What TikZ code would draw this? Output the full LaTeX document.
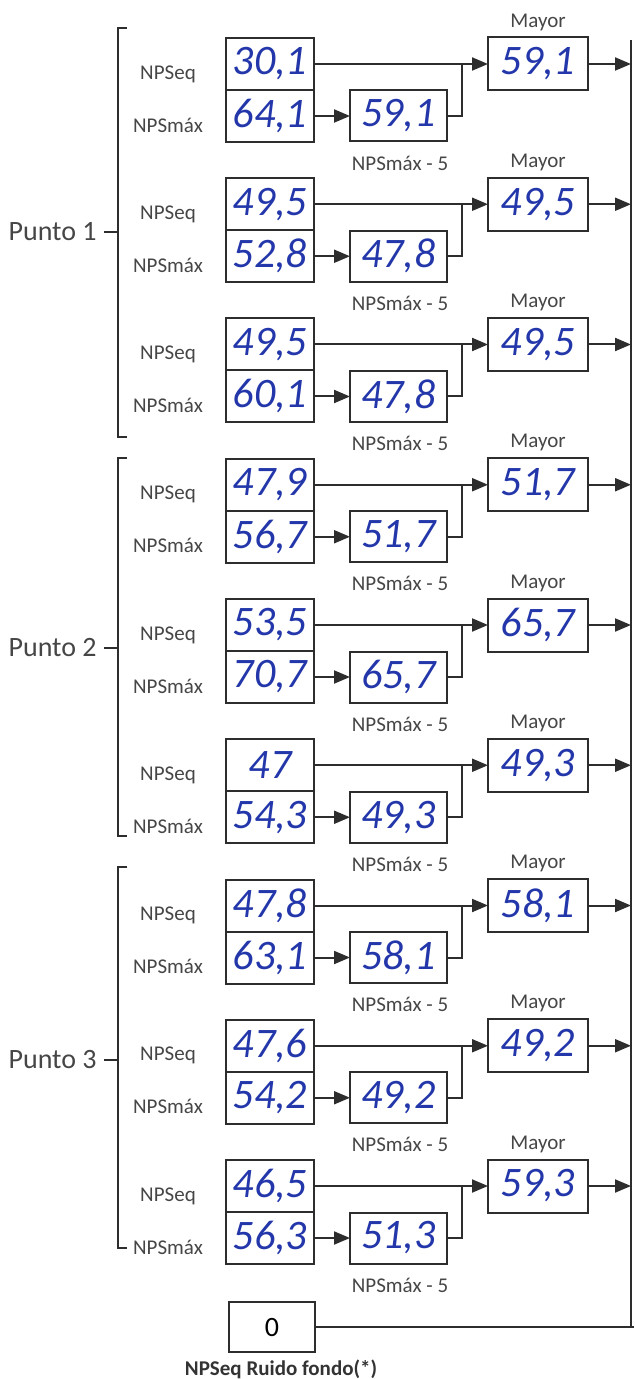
\documentclass[tikz,border=0pt]{standalone}
\usepackage{fontspec}
\setmainfont{Carlito}
\usetikzlibrary{arrows.meta,positioning}
\definecolor{ink}{RGB}{35,55,170}
\definecolor{wiregray}{RGB}{45,45,45}
\definecolor{taggray}{RGB}{70,70,70}
\begin{document}
\begin{tikzpicture}[x=0.5pt,y=-0.5pt,
    valbox/.style={draw=wiregray,line width=1pt,inner sep=0pt,outer sep=0pt,text=ink,
      font=\fontsize{21}{21}\selectfont\itshape},
    tag/.style={text=taggray,inner sep=0pt,font=\fontsize{10.5}{12}\selectfont},
    arr/.style={draw=wiregray,line width=1pt,-{Triangle[length=8pt,width=6.5pt]}},
    wire/.style={draw=wiregray,line width=1pt}]
  \useasboundingbox (0,0) rectangle (634,1379);
  \coordinate (rtop) at (631,40);
  \coordinate (rbot) at (631,1327);
  \coordinate (redge) at (634,1327);

  % one block per measurement
  \foreach \i/\eq/\mx/\sb/\my in {1/{30,1}/{64,1}/{59,1}/{59,1},
      2/{49,5}/{52,8}/{47,8}/{49,5}, 3/{49,5}/{60,1}/{47,8}/{49,5},
      4/{47,9}/{56,7}/{51,7}/{51,7}, 5/{53,5}/{70,7}/{65,7}/{65,7},
      6/{47}/{54,3}/{49,3}/{49,3}, 7/{47,8}/{63,1}/{58,1}/{58,1},
      8/{47,6}/{54,2}/{49,2}/{49,2}, 9/{46,5}/{56,3}/{51,3}/{59,3}}{
    \pgfmathsetmacro\t{38+140.25*(\i-1)}
    \node[valbox,minimum width=44pt,minimum height=26pt] (eq\i) at (270,\t+26) {\eq};
    \node[valbox,minimum width=44pt,minimum height=26pt,below=0pt of eq\i] (max\i) {\mx};
    \node[valbox,minimum width=48.5pt,minimum height=25.5pt,right=18pt of max\i] (sub\i) {\sb};
    \node[valbox,minimum width=50pt,minimum height=26.5pt,right=87pt of eq\i] (may\i) {\my};
    \coordinate (j\i) at (462,\t+26);

    \node[tag] (eqt\i) at (168,\t+36) {NPSeq};
    \node[tag] (mxt\i) at (168,\t+87) {NPSmáx};
    \node[tag] (sbt\i) at (400,\t+125) {NPSmáx - 5};
    \node[tag] (myt\i) at (538,\t-16) {Mayor};

    \draw[arr] (eq\i.east) -- (eq\i.east -| may\i.west);
    \draw[arr] (max\i.east) -- (sub\i.west);
    \draw[wire] (sub\i.east) -| (j\i);
    \draw[arr] (may\i.east) -- (may\i.east -| rtop);
  }

  % brackets for the three points
  \foreach \a/\b/\c/\n in {28/437/232/1, 458/836/648/2, 867/1248/1060/3}{
    \draw[wire] (127,\a) -- (118,\a) -- (118,\b) -- (127,\b);
    \draw[wire] (118,\c) -- (104,\c);
    \node[anchor=east,inner sep=0pt,text=taggray,font=\fontsize{14}{16}\selectfont] (pt\n) at (97,\c) {Punto \n};
  }

  \draw[wire] (rtop) -- (rbot);
  \node[valbox,minimum width=43pt,minimum height=25pt,text=black,
    font=\fontsize{14}{14}\selectfont] (zero) at (272,1327) {0};
  \node[tag,text=black!80,font=\fontsize{10.5}{12}\selectfont\bfseries] (zerot) at (281,1369) {NPSeq Ruido fondo(*)};
  \draw[wire] (zero.east) -- (zero.east -| redge);
\end{tikzpicture}
\end{document}
